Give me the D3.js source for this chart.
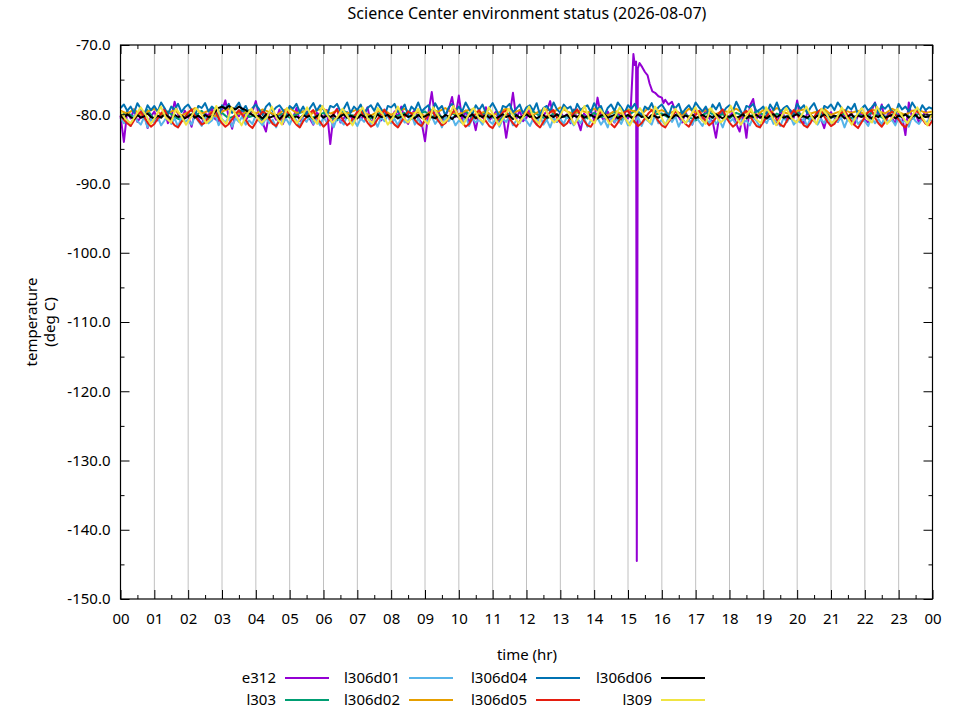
<!DOCTYPE html>
<html>
<head>
<meta charset="utf-8">
<style>
  body { margin: 0; background: #fff; }
  svg { display: block; font-family: "Noto Sans", sans-serif; }
</style>
</head>
<body>
<div id="chart"></div>
<script src="https://d3js.org/d3.v7.min.js"></script>
<script>
'use strict';

// series names, in plot / legend order
var seriesNames = ['e312', 'l303', 'l306d01', 'l306d02', 'l306d04', 'l306d05', 'l306d06', 'l309'];
var seriesColors = ['#9400d3', '#009e73', '#56b4e9', '#e69f00', '#0072b2', '#e51e10', '#000000', '#f0e442'];

// readings, evenly spaced over the day (00:00 -> 24:00), deg C
// rows of ten = one hour
var e312 = [
  -80.2, -84.0, -79.5, -80.6, -79.3, -81.1, -80.4, -79.8, -82.0, -80.3,
  -79.6, -80.9, -80.1, -79.2, -81.3, -80.5, -78.2, -80.0, -80.8, -79.5,
  -80.3, -81.8, -79.7, -80.6, -81.5, -79.9, -80.2, -79.1, -80.7, -81.0,
  -79.4, -78.0, -80.5, -82.1, -79.8, -80.3, -79.2, -80.9, -80.1, -79.6,
  -78.1, -80.4, -81.2, -82.5, -79.7, -80.0, -80.8, -79.3, -81.4, -80.2,
  -79.9, -80.6, -79.1, -81.0, -80.3, -79.6, -80.7, -81.5, -79.8, -80.1,
  -80.5, -79.4, -84.3, -80.0, -79.2, -81.2, -80.6, -79.7, -80.3, -81.0,
  -79.5, -80.8, -80.1, -79.0, -81.3, -80.4, -79.8, -80.9, -79.3, -80.2,
  -81.1, -79.6, -80.3, -78.9, -80.7, -81.4, -80.0, -79.4, -80.6, -81.2,
  -83.9, -79.8, -76.8, -80.5, -79.6, -81.0, -80.2, -79.3, -77.5, -80.4,
  -77.3, -80.8, -79.5, -81.2, -80.1, -82.3, -79.7, -80.5, -79.0, -80.9,
  -80.3, -79.6, -81.1, -80.0, -83.4, -80.2, -76.9, -80.7, -79.4, -81.0,
  -80.5, -79.2, -80.9, -81.4, -79.8, -80.2, -79.5, -78.1, -80.6, -81.1,
  -79.7, -80.4, -80.0, -81.3, -79.3, -80.8, -82.3, -79.9, -80.5, -79.4,
  -80.9, -77.6, -80.2, -81.0, -79.6, -80.4, -81.2, -79.8, -80.5, -79.9,
  -80.6, -79.8, -80.3, -79.5, -80.1, -79.7, -80.2, -79.6, -80.0, -79.4,
  -79.1, -79.6, -79.3, -80.0, -79.5, -80.4, -81.2, -79.7, -80.8, -81.5,
  -79.4, -80.1, -80.9, -79.2, -80.6, -81.0, -83.4, -80.2, -79.5, -80.7,
  -80.3, -79.7, -81.4, -82.5, -80.0, -83.4, -78.8, -77.8, -80.6, -79.9,
  -81.2, -80.4, -79.3, -80.8, -81.5, -79.6, -80.1, -80.9, -79.4, -80.5,
  -78.0, -80.7, -81.3, -79.8, -80.2, -81.0, -79.5, -80.6, -82.0, -80.1,
  -79.7, -80.5, -81.1, -79.4, -80.3, -80.9, -79.6, -81.4, -80.2, -79.9,
  -80.8, -81.2, -79.5, -78.3, -80.4, -78.6, -81.0, -79.7, -80.5, -81.3,
  -79.8, -80.3, -83.0, -78.3, -80.6, -79.9, -81.2, -80.4, -79.5, -80.7,
  -80.2
];
// e312 excursion around 15:10, [hour, deg C]; replaces the regular readings in that window
var e312Event = [
  [15.08, -79.4], [15.16, -71.3], [15.20, -72.9], [15.24, -72.4], [15.26, -144.5],
  [15.29, -73.4], [15.34, -72.6], [15.42, -73.2], [15.50, -73.9], [15.58, -74.4],
  [15.64, -75.6], [15.72, -76.7], [15.80, -76.9], [15.90, -77.4], [16.00, -77.6],
  [16.05, -78.4], [16.10, -77.9], [16.20, -78.6], [16.30, -78.2]
];
var e312EventWindow = [15.0, 16.4];

var l303 = [
  -80.2, -79.7, -80.5, -80.0, -79.4, -80.8, -80.1, -79.6, -80.4, -80.9,
  -79.9, -80.3, -79.5, -80.7, -80.0, -79.8, -80.6, -80.2, -79.3, -80.4,
  -80.1, -80.8, -79.7, -80.3, -79.9, -80.5, -80.0, -79.6, -80.7, -80.2,
  -79.8, -80.4, -80.9, -79.5, -80.1, -80.3, -79.7, -80.6, -80.0, -79.4,
  -80.5, -80.2, -79.8, -80.7, -80.1, -79.6, -80.4, -80.0, -80.8, -79.9,
  -80.3, -79.5, -80.6, -80.2, -79.7, -80.4, -80.9, -80.0, -79.8, -80.5,
  -80.1, -79.6, -80.3, -80.7, -79.9, -80.2, -80.5, -79.4, -80.0, -80.6,
  -79.8, -80.4, -80.1, -79.7, -80.8, -80.2, -79.5, -80.3, -80.6, -80.0,
  -79.9, -80.5, -80.2, -79.6, -80.4, -80.9, -80.1, -79.7, -80.3, -80.0,
  -80.6, -79.8, -80.2, -80.5, -79.5, -80.1, -80.7, -79.9, -80.4, -80.2,
  -79.7, -80.3, -80.8, -80.0, -79.6, -80.5, -80.2, -79.9, -80.6, -80.1,
  -80.4, -79.8, -80.2, -80.7, -79.5, -80.3, -80.0, -80.6, -79.9, -80.4,
  -80.1
];

var l306d01 = [
  -80.5, -81.3, -80.8, -81.7, -80.2, -81.0, -81.5, -80.4, -81.9, -80.7,
  -81.2, -80.3, -81.6, -80.9, -80.1, -81.4, -80.6, -81.8, -80.5, -81.1,
  -80.8, -81.5, -80.2, -81.0, -81.7, -80.4, -81.3, -80.9, -80.0, -81.6,
  -80.7, -81.2, -80.4, -81.8, -80.6, -81.1, -80.3, -81.5, -80.9, -81.4,
  -80.1, -81.0, -81.6, -80.5, -81.3, -80.8, -81.9, -80.4, -81.2, -80.7,
  -81.5, -80.3, -80.9, -81.7, -80.6, -81.1, -80.2, -81.4, -80.8, -81.6,
  -80.4, -81.2, -80.7, -81.9, -80.5, -81.0, -81.5, -80.1, -81.3, -80.9,
  -81.7, -80.6, -81.1, -80.3, -81.4, -80.8, -81.8, -80.5, -81.0, -80.2,
  -81.3, -80.7, -81.6, -80.4, -81.2, -80.9, -80.0, -81.5, -80.6, -81.8,
  -80.8, -81.1, -80.3, -81.4, -80.7, -81.9, -80.5, -81.0, -80.4, -81.6,
  -80.9, -81.3, -80.2, -81.7, -80.6, -81.2, -80.8, -81.5, -80.1, -81.0,
  -81.4, -80.5, -81.8, -80.7, -81.1, -80.3, -81.6, -80.9, -81.3, -80.4,
  -81.0, -81.7, -80.6, -81.2, -80.2, -81.5, -80.8, -81.9, -80.5, -81.1,
  -80.7, -81.4, -80.3, -81.0, -81.6, -80.6, -81.3, -80.4, -81.8, -80.9,
  -81.2, -80.5, -81.5, -80.8, -81.9, -80.2, -81.1, -80.7, -81.4, -80.3,
  -81.6, -80.9, -81.2, -80.4, -81.7, -80.6, -81.0, -81.5, -80.1, -81.3,
  -80.8, -81.6, -80.5, -81.1, -80.3, -81.8, -80.7, -81.2, -80.9, -81.5,
  -80.4, -81.0, -81.7, -80.6, -81.3, -80.2, -81.4, -80.8, -81.9, -80.5,
  -81.1, -80.7, -81.5, -80.3, -81.2, -80.9, -81.6, -80.4, -81.0, -81.8,
  -80.6, -81.3, -80.2, -81.4, -80.8, -81.7, -80.5, -81.1, -80.3, -81.5,
  -80.9, -81.2, -80.6, -81.8, -80.4, -81.0, -81.5, -80.7, -81.3, -80.2,
  -81.6, -80.8, -81.1, -80.5, -81.9, -80.6, -81.2, -80.3, -81.4, -80.9,
  -81.0, -81.7, -80.4, -81.3, -80.7, -81.5, -80.2, -81.1, -80.8, -81.6,
  -80.5, -81.2, -80.9, -81.8, -80.3, -81.0, -81.4, -80.6, -81.3, -80.7,
  -81.0
];

var l306d02 = [
  -79.5, -79.9, -79.3, -80.1, -79.6, -79.2, -80.0, -79.8, -79.4, -80.2,
  -79.7, -79.1, -79.9, -79.5, -80.3, -79.6, -79.2, -79.8, -80.0, -79.4,
  -79.9, -79.3, -79.7, -80.2, -79.5, -79.1, -79.8, -79.6, -80.1, -79.4,
  -79.2, -79.9, -79.5, -80.0, -79.7, -79.3, -79.8, -80.2, -79.6, -79.4,
  -80.1, -79.5, -79.2, -79.9, -79.7, -80.3, -79.4, -79.6, -79.1, -79.8,
  -80.0, -79.5, -79.3, -79.9, -79.6, -80.2, -79.7, -79.2, -79.8, -79.4,
  -79.9, -80.1, -79.5, -79.3, -79.7, -79.0, -79.6, -80.0, -79.4, -79.8,
  -79.2, -79.7, -80.2, -79.5, -79.9, -79.3, -79.6, -80.0, -79.1, -79.7,
  -79.4, -79.9, -79.5, -80.1, -79.2, -79.8, -79.6, -79.3, -80.0, -79.5,
  -79.7, -79.2, -79.9, -79.6, -80.2, -79.4, -79.8, -79.1, -79.7, -80.0,
  -79.5, -79.3, -79.9, -79.6, -79.2, -80.1, -79.7, -79.4, -79.8, -79.5,
  -80.0, -79.3, -79.6, -79.9, -79.2, -79.7, -80.1, -79.5, -79.4, -79.8,
  -79.6
];

var l306d04 = [
  -79.1, -78.6, -79.5, -78.9, -79.8, -78.4, -79.2, -80.1, -78.7, -79.4,
  -78.8, -79.6, -78.3, -79.1, -80.0, -78.9, -79.3, -78.5, -79.7, -79.0,
  -78.6, -79.4, -80.2, -78.8, -79.1, -78.4, -79.6, -78.9, -79.3, -80.4,
  -78.7, -79.2, -78.5, -79.8, -79.0, -78.3, -79.5, -78.8, -79.9, -79.1,
  -78.6, -79.3, -80.1, -78.9, -78.4, -79.6, -79.0, -78.7, -79.4, -80.3,
  -78.8, -79.2, -78.5, -79.7, -78.9, -80.0, -79.1, -78.4, -79.5, -78.7,
  -79.3, -80.2, -78.8, -79.0, -78.5, -79.6, -79.2, -78.3, -79.8, -78.9,
  -79.4, -78.6, -80.0, -79.1, -78.7, -79.5, -78.4, -79.2, -80.3, -78.8,
  -79.0, -78.5, -79.7, -79.3, -78.6, -80.1, -78.9, -79.4, -78.3, -79.6,
  -79.1, -78.7, -79.9, -78.4, -79.3, -78.8, -80.2, -79.0, -78.5, -79.5,
  -78.9, -79.6, -78.3, -79.2, -80.0, -78.7, -79.4, -78.6, -79.8, -79.1,
  -78.4, -79.3, -80.4, -78.8, -79.0, -78.5, -79.7, -79.2, -78.6, -79.9,
  -79.0, -78.7, -79.5, -78.4, -80.1, -79.1, -78.8, -79.6, -78.3, -79.3,
  -79.8, -78.6, -79.2, -78.9, -80.0, -78.5, -79.4, -79.0, -78.7, -79.7,
  -78.4, -79.3, -78.8, -80.2, -79.1, -78.6, -79.5, -78.3, -79.0, -79.8,
  -78.7, -79.2, -78.5, -79.6, -80.1, -78.9, -79.3, -78.4, -79.7, -79.0,
  -78.6, -79.4, -80.3, -78.8, -79.1, -78.5, -79.9, -79.2, -78.7, -79.5,
  -78.3, -79.0, -79.6, -78.9, -80.0, -78.6, -79.3, -78.4, -79.8, -79.1,
  -78.7, -79.5, -78.2, -79.2, -80.2, -78.8, -79.0, -78.5, -79.6, -79.3,
  -78.9, -80.1, -78.6, -79.4, -78.3, -79.7, -79.1, -78.8, -79.5, -80.0,
  -78.5, -79.2, -78.7, -79.9, -79.0, -78.4, -79.6, -80.3, -78.8, -79.1,
  -78.6, -79.4, -78.3, -79.0, -79.8, -78.9, -79.3, -78.5, -80.1, -79.2,
  -78.7, -79.5, -79.0, -78.4, -79.9, -78.8, -79.2, -78.6, -79.7, -80.0,
  -78.5, -79.3, -78.9, -79.6, -78.3, -79.1, -79.8, -78.7, -79.4, -79.0,
  -79.2
];

var l306d05 = [
  -80.2, -80.8, -81.3, -81.7, -80.9, -80.1, -79.6, -80.4, -81.2, -81.8,
  -81.4, -80.6, -79.9, -79.4, -80.3, -81.0, -81.6, -81.9, -81.1, -80.5,
  -79.8, -79.3, -80.2, -80.9, -81.5, -81.2, -80.4, -79.7, -79.5, -80.6,
  -81.3, -81.8, -81.4, -80.7, -80.0, -79.4, -80.1, -80.8, -81.6, -82.0,
  -81.2, -80.3, -79.6, -79.9, -80.7, -81.4, -81.7, -80.9, -80.2, -79.5,
  -80.0, -80.9, -81.5, -81.9, -81.0, -80.4, -79.8, -79.4, -80.5, -81.1,
  -81.8, -81.3, -80.6, -79.9, -79.3, -80.2, -81.0, -81.6, -81.2, -80.3,
  -79.7, -79.5, -80.4, -81.2, -81.8, -81.5, -80.7, -80.0, -79.4, -80.1,
  -80.9, -81.5, -81.9, -81.1, -80.3, -79.6, -79.9, -80.8, -81.4, -81.7,
  -80.8, -80.1, -79.5, -80.2, -81.0, -81.6, -81.3, -80.5, -79.8, -79.3,
  -80.4, -81.1, -81.8, -81.4, -80.6, -79.9, -79.4, -80.3, -81.0, -81.7,
  -82.0, -81.2, -80.4, -79.7, -79.5, -80.6, -81.3, -81.8, -81.0, -80.2,
  -79.6, -80.0, -80.8, -81.5, -81.9, -81.1, -80.3, -79.7, -79.4, -80.5,
  -81.2, -81.7, -81.3, -80.5, -79.8, -79.3, -80.1, -80.9, -81.6, -81.8,
  -81.0, -80.2, -79.6, -80.0, -80.7, -81.4, -81.9, -81.2, -80.4, -79.7,
  -79.5, -80.4, -81.1, -81.7, -81.3, -80.6, -79.9, -79.4, -80.2, -81.0,
  -81.6, -81.9, -81.1, -80.3, -79.6, -79.8, -80.7, -81.4, -81.8, -80.9,
  -80.1, -79.5, -80.3, -81.0, -81.6, -81.2, -80.5, -79.8, -79.3, -80.4,
  -81.2, -81.8, -81.4, -80.6, -79.9, -79.5, -80.2, -81.0, -81.7, -81.9,
  -81.1, -80.3, -79.6, -79.9, -80.8, -81.5, -81.8, -80.9, -80.1, -79.4,
  -80.0, -80.9, -81.6, -81.9, -81.2, -80.4, -79.7, -79.3, -80.3, -81.1,
  -81.7, -81.4, -80.6, -79.9, -79.5, -80.2, -81.0, -81.6, -82.0, -81.2,
  -80.4, -79.7, -79.4, -80.5, -81.3, -81.8, -81.1, -80.2, -79.6, -80.0,
  -80.8, -81.5, -81.9, -81.0, -80.3, -79.5, -79.8, -80.7, -81.4, -81.6,
  -80.9
];

var l306d06 = [
  -80.2, -80.6, -80.0, -80.4, -80.7, -80.1, -80.5, -80.3, -79.9, -80.4,
  -80.6, -80.2, -80.5, -80.0, -80.3, -80.7, -80.1, -80.4, -80.2, -80.6,
  -80.3, -80.0, -80.5, -80.2, -80.6, -80.1, -80.4, -80.3, -79.6, -79.1,
  -78.9, -79.2, -78.8, -79.1, -79.3, -78.9, -79.2, -79.4, -79.8, -80.1,
  -80.4, -80.2, -80.6, -80.0, -80.5, -80.3, -80.1, -80.7, -80.2, -80.4,
  -80.0, -80.5, -80.3, -80.6, -80.1, -80.4, -80.2, -80.7, -80.3, -80.0,
  -80.5, -80.2, -80.4, -80.1, -80.6, -80.3, -80.0, -80.5, -80.2, -80.4,
  -80.6, -80.1, -80.3, -80.5, -80.2, -80.7, -80.0, -80.4, -80.3, -80.1,
  -80.5, -80.2, -80.6, -80.3, -80.0, -80.4, -80.2, -80.6, -80.1, -80.5,
  -80.3, -80.0, -80.4, -80.6, -80.2, -80.5, -80.1, -80.3, -80.7, -80.2,
  -80.4, -80.1, -80.5, -80.3, -80.0, -80.6, -80.2, -80.4, -80.1, -80.5,
  -80.2, -80.6, -80.3, -80.0, -80.4, -80.2, -80.7, -80.1, -80.5, -80.3,
  -80.0, -80.4, -80.2, -80.6, -80.3, -80.1, -80.5, -80.2, -80.4, -80.0,
  -80.5, -80.3, -80.1, -80.6, -80.2, -80.4, -80.0, -80.5, -80.3, -80.1,
  -80.4, -80.6, -80.2, -80.0, -80.5, -80.3, -80.1, -80.6, -80.2, -80.4,
  -80.1, -80.5, -80.3, -80.0, -80.4, -80.2, -80.6, -80.1, -80.3, -80.5,
  -80.2, -80.0, -80.4, -80.6, -80.1, -80.3, -80.5, -80.2, -80.4, -80.0,
  -80.6, -80.3, -80.1, -80.4, -80.2, -80.5, -80.0, -80.3, -80.6, -80.2,
  -80.4, -80.1, -80.5, -80.3, -80.0, -80.6, -80.2, -80.4, -80.1, -80.5,
  -80.3, -80.6, -80.2, -80.0, -80.4, -80.1, -80.5, -80.3, -80.6, -80.2,
  -80.0, -80.4, -80.3, -80.5, -80.1, -80.6, -80.2, -80.4, -80.0, -80.3,
  -80.5, -80.2, -80.4, -80.1, -80.6, -80.3, -80.0, -80.5, -80.2, -80.4,
  -80.1, -80.3, -80.6, -80.2, -80.4, -80.0, -80.5, -80.3, -80.1, -80.6,
  -80.2, -80.4, -80.0, -80.5, -80.3, -80.1, -80.6, -80.2, -80.4, -80.3,
  -80.2
];

var l309 = [
  -79.6, -80.7, -81.3, -80.2,  -79.0, -80.1, -81.4, -80.3,  -78.9, -80.5, -81.2,
  -79.2, -80.2, -81.5, -80.4,  -79.1, -80.0, -81.3, -80.6,  -78.8, -80.7, -81.4,
  -79.0, -80.3, -81.6, -80.1,  -79.2, -80.4, -81.2, -80.5,  -78.9, -80.6, -81.5,
  -79.1, -80.2, -81.3, -80.3,  -79.0, -80.5, -81.4,
  -78.8, -80.1, -81.2, -80.4,  -79.2, -80.3, -81.6, -80.2,  -79.0, -80.6, -81.3,
  -79.1, -80.0, -81.5, -80.5,  -78.9, -80.4, -81.2, -80.3,  -79.2, -80.7, -81.4,
  -79.0, -80.2, -81.3, -80.6,  -78.8, -80.3, -81.5, -80.1,  -79.1, -80.5, -81.2,
  -79.0, -80.1, -81.6, -80.4,  -79.2, -80.4, -81.3, -80.2,  -78.9, -80.6, -81.4,
  -79.1, -80.3, -81.2, -80.5,  -79.0, -80.0, -81.5, -80.3,  -78.8, -80.7, -81.3,
  -79.2, -80.2, -81.4, -80.4,  -79.0, -80.5, -81.6, -80.1,  -79.1, -80.4, -81.2,
  -78.9, -80.1, -81.5, -80.6,  -79.2, -80.3, -81.3, -80.2,  -79.0, -80.6, -81.4,
  -79.1, -80.2, -81.2, -80.5,  -78.8, -80.4, -81.5, -80.3,  -79.2, -80.7, -81.3,
  -79.0, -80.1, -81.6, -80.4,  -79.1, -80.5, -81.2, -80.2,  -78.9, -80.3, -81.4,
  -79.2, -80.0, -81.3, -80.6,  -79.0, -80.4, -81.5, -80.1,  -79.1, -80.6, -81.2,
  -78.9, -80.2, -81.4, -80.5,  -79.2, -80.3, -81.3, -80.2,  -79.0, -80.5, -81.6,
  -79.6
];

var xTicks = d3.range(0, 25, 1);          // hours
var xMinorTicks = d3.range(0.5, 24, 1);
var yTicks = d3.range(-150, -69, 10);      // deg C
var yMinorTicks = d3.range(-145, -70, 10);

var titleText = 'Science Center environment status (2026-08-07)';

var width = 960, height = 720;
var plot = { left: 120.5, right: 932.5, top: 45, bottom: 599 };

var x = d3.scaleLinear().domain([0, 24]).range([plot.left, plot.right]);
var y = d3.scaleLinear().domain([-150, -70]).range([plot.bottom, plot.top]);

function evenPoints(values) {
  return values.map(function (v, i) { return [i * 24 / (values.length - 1), v]; });
}

var e312Points = evenPoints(e312)
  .filter(function (p) { return p[0] <= e312EventWindow[0] || p[0] >= e312EventWindow[1]; })
  .concat(e312Event)
  .sort(function (a, b) { return a[0] - b[0]; });

var seriesValues = [e312Points, evenPoints(l303), evenPoints(l306d01), evenPoints(l306d02),
  evenPoints(l306d04), evenPoints(l306d05), evenPoints(l306d06), evenPoints(l309)];

var series = seriesNames.map(function (name, i) {
  return { name: name, color: seriesColors[i], points: seriesValues[i] };
});

var svg = d3.select('#chart').append('svg')
  .attr('width', width)
  .attr('height', height);

svg.append('rect').attr('width', width).attr('height', height).attr('fill', '#fff');

// vertical grid
svg.append('g')
  .selectAll('line')
  .data(xTicks.slice(1, -1))
  .enter().append('line')
    .attr('x1', function (d) { return x(d); })
    .attr('x2', function (d) { return x(d); })
    .attr('y1', plot.top)
    .attr('y2', plot.bottom)
    .attr('stroke', '#c0c0c0')
    .attr('stroke-width', 1);

// data
var line = d3.line()
  .x(function (d) { return x(d[0]); })
  .y(function (d) { return y(d[1]); });

svg.append('g')
  .selectAll('path')
  .data(series)
  .enter().append('path')
    .attr('d', function (d) { return line(d.points); })
    .attr('fill', 'none')
    .attr('stroke', function (d) { return d.color; })
    .attr('stroke-width', 2)
    .attr('stroke-linejoin', 'round');

// axes, ticks pointing inward, mirrored on top/right
function styleAxis(g) {
  g.select('.domain').remove();
  g.selectAll('.tick line').attr('stroke', '#000');
  g.selectAll('.tick text').attr('fill', '#000').attr('font-size', 15)
    .attr('font-family', '"Noto Sans", sans-serif');
}

svg.append('g')
  .attr('transform', 'translate(0,' + plot.bottom + ')')
  .call(d3.axisBottom(x).tickValues(xTicks).tickSize(-9).tickPadding(14)
    .tickFormat(function (d) { return d3.format('02d')(d % 24); }))
  .call(styleAxis);
svg.append('g')
  .attr('transform', 'translate(0,' + plot.bottom + ')')
  .call(d3.axisBottom(x).tickValues(xMinorTicks).tickSize(-4).tickFormat(''))
  .call(styleAxis);
svg.append('g')
  .attr('transform', 'translate(0,' + plot.top + ')')
  .call(d3.axisTop(x).tickValues(xTicks).tickSize(-9).tickFormat(''))
  .call(styleAxis);
svg.append('g')
  .attr('transform', 'translate(0,' + plot.top + ')')
  .call(d3.axisTop(x).tickValues(xMinorTicks).tickSize(-4).tickFormat(''))
  .call(styleAxis);

svg.append('g')
  .attr('transform', 'translate(' + plot.left + ',0)')
  .call(d3.axisLeft(y).tickValues(yTicks).tickSize(-9).tickPadding(10)
    .tickFormat(function (d) { return d.toFixed(1); }))
  .call(styleAxis);
svg.append('g')
  .attr('transform', 'translate(' + plot.left + ',0)')
  .call(d3.axisLeft(y).tickValues(yMinorTicks).tickSize(-4).tickFormat(''))
  .call(styleAxis);
svg.append('g')
  .attr('transform', 'translate(' + plot.right + ',0)')
  .call(d3.axisRight(y).tickValues(yTicks).tickSize(-9).tickFormat(''))
  .call(styleAxis);
svg.append('g')
  .attr('transform', 'translate(' + plot.right + ',0)')
  .call(d3.axisRight(y).tickValues(yMinorTicks).tickSize(-4).tickFormat(''))
  .call(styleAxis);

// border
svg.append('rect')
  .attr('x', plot.left).attr('y', plot.top)
  .attr('width', plot.right - plot.left).attr('height', plot.bottom - plot.top)
  .attr('fill', 'none').attr('stroke', '#000').attr('stroke-width', 1.2);

// title & labels
svg.append('text')
  .attr('x', 527).attr('y', 19)
  .attr('text-anchor', 'middle')
  .attr('font-size', 16)
  .text(titleText);

svg.append('text')
  .attr('x', 527).attr('y', 660)
  .attr('text-anchor', 'middle')
  .attr('font-size', 15)
  .text('time (hr)');

var ylab = svg.append('text')
  .attr('transform', 'translate(0,322) rotate(-90)')
  .attr('text-anchor', 'middle')
  .attr('font-size', 15);
ylab.append('tspan').attr('x', 0).attr('y', 37).text('temperature');
ylab.append('tspan').attr('x', 0).attr('y', 55).text('(deg C)');

// legend, two rows, filled column by column
var legendColX = [276, 400, 527, 652];
var legendRowY = [678, 700];

var legend = svg.append('g')
  .selectAll('g')
  .data(series)
  .enter().append('g')
    .attr('transform', function (d, i) {
      return 'translate(' + legendColX[Math.floor(i / 2)] + ',' + legendRowY[i % 2] + ')';
    });
legend.append('text')
  .attr('text-anchor', 'end')
  .attr('y', 5)
  .attr('font-size', 15)
  .text(function (d) { return d.name; });
legend.append('line')
  .attr('x1', 9).attr('x2', 53)
  .attr('stroke', function (d) { return d.color; })
  .attr('stroke-width', 2);
</script>
</body>
</html>
